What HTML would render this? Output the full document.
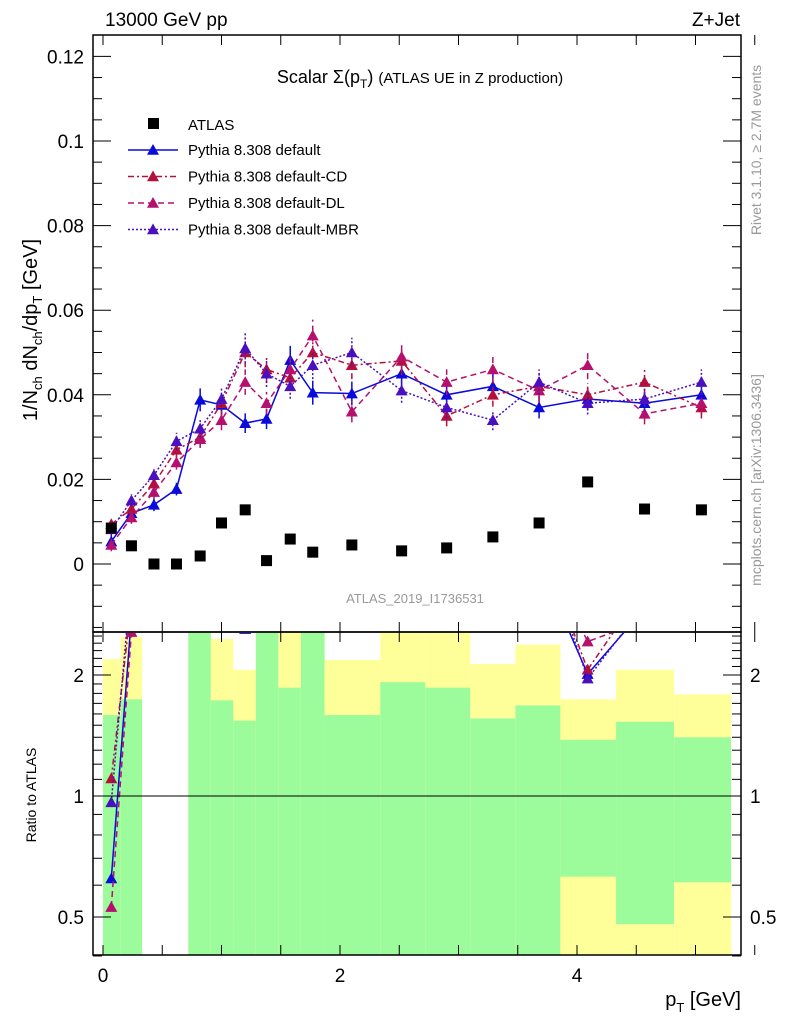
<!DOCTYPE html>
<html><head><meta charset="utf-8"><style>
body{margin:0;background:#fff;font-family:"Liberation Sans",sans-serif}
</style></head><body>
<svg id="c" width="786" height="1024" xmlns="http://www.w3.org/2000/svg" font-family="Liberation Sans, sans-serif">
<defs>
<clipPath id="mclip"><rect x="93" y="35" width="648" height="597"/></clipPath>
<clipPath id="rclip"><rect x="93" y="633" width="648" height="322"/></clipPath>
</defs>
<g id="bands" clip-path="url(#rclip)"></g>
<g id="main" clip-path="url(#mclip)"></g>
<g id="ratio" clip-path="url(#rclip)"></g>
<line x1="93" y1="796" x2="741" y2="796" stroke="#000" stroke-width="1"/>
<g id="axes"></g>
<text x="105" y="26" font-size="19">13000 GeV pp</text>
<text x="740" y="26" font-size="19" text-anchor="end">Z+Jet</text>
<text x="420" y="83" font-size="18" text-anchor="middle">Scalar Σ(p<tspan font-size="12" dy="5">T</tspan><tspan dy="-5">) </tspan><tspan font-size="15">(ATLAS UE in Z production)</tspan></text>
<text x="415" y="603" font-size="13" fill="#999" text-anchor="middle">ATLAS_2019_I1736531</text>
<text transform="translate(37,330) rotate(-90)" font-size="20" text-anchor="middle">1/N<tspan font-size="13" dy="5">ch</tspan><tspan dy="-5"> dN</tspan><tspan font-size="13" dy="5">ch</tspan><tspan dy="-5">/dp</tspan><tspan font-size="13" dy="5">T</tspan><tspan dy="-5"> [GeV]</tspan></text>
<text transform="translate(36,795) rotate(-90)" font-size="14" text-anchor="middle">Ratio to ATLAS</text>
<text x="741" y="1006" font-size="20" text-anchor="end">p<tspan font-size="13" dy="6">T</tspan><tspan dy="-6"> [GeV]</tspan></text>
<text transform="translate(761,150) rotate(-90)" font-size="14" fill="#999" text-anchor="middle">Rivet 3.1.10, ≥ 2.7M events</text>
<text transform="translate(761,480) rotate(-90)" font-size="14" fill="#999" text-anchor="middle">mcplots.cern.ch [arXiv:1306.3436]</text>
<g id="legend"></g>
</svg>
<script>
const xCenters=[0.07,0.24,0.43,0.62,0.82,1.0,1.2,1.38,1.58,1.77,2.1,2.52,2.9,3.29,3.68,4.09,4.57,5.05];
const binEdges=[0,0.15,0.33,0.52,0.72,0.91,1.1,1.29,1.48,1.67,1.87,2.34,2.72,3.1,3.48,3.86,4.33,4.82,5.3];
const atlas=[0.0085,0.0043,0,0,0.0019,0.0097,0.0128,0.0008,0.0059,0.0028,0.0045,0.0031,0.0038,0.0064,0.0097,0.0194,0.013,0.0128];
const pyDefault=[0.0053,0.012,0.014,0.0177,0.0388,0.0376,0.0333,0.0343,0.0482,0.0405,0.0403,0.045,0.040,0.042,0.037,0.039,0.038,0.040];
const pyCD=[0.0094,0.013,0.019,0.027,0.030,0.038,0.050,0.046,0.044,0.050,0.047,0.048,0.035,0.040,0.042,0.040,0.043,0.037];
const pyDL=[0.0045,0.011,0.017,0.024,0.0295,0.034,0.043,0.038,0.046,0.054,0.036,0.049,0.043,0.046,0.041,0.047,0.0355,0.038];
const pyMBR=[0.0082,0.015,0.021,0.029,0.032,0.039,0.051,0.045,0.042,0.047,0.050,0.041,0.037,0.034,0.043,0.038,0.039,0.043];
const greenHi=[1.59,1.74,0,0,3,1.73,1.54,3,1.86,3,1.59,1.92,1.86,1.56,1.68,1.38,1.53,1.40];
const greenLo=[0.3,0.3,0,0,0.3,0.3,0.3,0.3,0.3,0.3,0.3,0.3,0.3,0.3,0.3,0.63,0.48,0.61];
const yellowHi=[2.19,2.49,0,0,3,2.46,2.06,3,3,3,2.18,3,3,2.13,2.38,1.74,2.06,1.79];
const yellowLo=[0.3,0.3,0,0,0.3,0.3,0.48,0.3,0.3,0.3,0.42,0.3,0.3,0.45,0.3,0.3,0.3,0.3];
const yTicks=[0,0.02,0.04,0.06,0.08,0.1,0.12];
const xTicks=[0,2,4];
const rTicks=[0.5,1,2];

const NS="http://www.w3.org/2000/svg";
const X=v=>103+v*118.5;
const Y=v=>564-v*4230;
const R=r=>796-Math.log2(r)*121;
function mk(p,t,a){const e=document.createElementNS(NS,t);for(const k in a)e.setAttribute(k,a[k]);p.appendChild(e);return e;}
const bands=document.getElementById('bands'),main=document.getElementById('main'),ratio=document.getElementById('ratio'),axes=document.getElementById('axes'),leg=document.getElementById('legend');

for(let i=0;i<xCenters.length;i++){
  if(yellowHi[i]===0)continue;
  const x0=X(binEdges[i]),w=X(binEdges[i+1])-x0;
  const y=mk(bands,'rect',{x:x0,y:R(yellowHi[i]),width:w,height:R(yellowLo[i])-R(yellowHi[i]),fill:'#ffff99'});
  
  
  const g=mk(bands,'rect',{x:x0,y:R(greenHi[i]),width:w,height:R(greenLo[i])-R(greenHi[i]),fill:'#9cfc9c'});
  
  
}

const series=[
 {d:pyDefault,c:'#0a0adc',dash:'',name:'Pythia 8.308 default',key:'default'},
 {d:pyCD,c:'#b5103c',dash:'6,3,2,3',name:'Pythia 8.308 default-CD',key:'cd'},
 {d:pyDL,c:'#b5106e',dash:'6,4',name:'Pythia 8.308 default-DL',key:'dl'},
 {d:pyMBR,c:'#4a10c0',dash:'2,2',name:'Pythia 8.308 default-MBR',key:'mbr'}
];
function tri(p,x,y,c,s){return mk(p,'path',{d:`M${x},${y-s}L${x+s},${y+s*0.8}L${x-s},${y+s*0.8}Z`,fill:c});}

series.forEach(s=>{
  const pts=s.d.map((v,i)=>X(xCenters[i])+','+Y(v)).join(' ');
  const l=mk(main,'polyline',{points:pts,fill:'none',stroke:s.c,'stroke-width':1.5,'stroke-dasharray':s.dash});
  
  
  s.d.forEach((v,i)=>{
    const x=X(xCenters[i]),e=Math.max(0.0015,v*0.07);
    mk(main,'line',{x1:x,y1:Y(v-e),x2:x,y2:Y(v+e),stroke:s.c,'stroke-width':1.5,'stroke-dasharray':s.dash});
    const t=tri(main,x,Y(v),s.c,6);
    
    
  });
  const rp=[];
  s.d.forEach((v,i)=>{if(atlas[i]>0){rp.push([X(xCenters[i]),R(v/atlas[i])]);}});
  const rl=mk(ratio,'polyline',{points:rp.map(p=>p.join(',')).join(' '),fill:'none',stroke:s.c,'stroke-width':1.5,'stroke-dasharray':s.dash});
  
  
  rp.forEach(p=>{const t=tri(ratio,p[0],p[1],s.c,6);
    
    });
});
atlas.forEach((v,i)=>{
  const r=mk(main,'rect',{x:X(xCenters[i])-5.5,y:Y(v)-5.5,width:11,height:11,fill:'#000'});
  
  
});

[[35,632],[632,955]].forEach(([t,b])=>mk(axes,'rect',{x:93,y:t,width:648,height:b-t,fill:'none',stroke:'#000','stroke-width':1.5}));
for(let v=0;v<=5.5;v+=0.5){const x=X(v);
  [[632,-10],[955,-10],[632,10]].forEach(([y0,d])=>mk(axes,'line',{x1:x,y1:y0,x2:x,y2:y0+d,stroke:'#000'}));
  mk(axes,'line',{x1:x,y1:35,x2:x,y2:45,stroke:'#000'});}
xTicks.forEach(v=>{const t=mk(axes,'text',{x:X(v),y:982,'font-size':19,'text-anchor':'middle'});t.textContent=v;
  
  });
for(let v=-0.015;v<=0.125;v+=0.005){const y=Y(v);if(y<35||y>632)continue;
  const maj=Math.abs(v/0.02-Math.round(v/0.02))<0.01,L=maj?18:9;
  mk(axes,'line',{x1:93,y1:y,x2:93+L,y2:y,stroke:'#000'});mk(axes,'line',{x1:741,y1:y,x2:741-L,y2:y,stroke:'#000'});}
yTicks.forEach(v=>{const t=mk(axes,'text',{x:84,y:Y(v)+7,'font-size':19,'text-anchor':'end'});t.textContent=v;
  
  });
[0.4,0.5,0.6,0.7,0.8,0.9,1,1.1,1.2,1.3,1.4,1.5,1.6,1.7,1.8,1.9,2,2.1,2.2,2.3,2.4,2.5].forEach(r=>{const y=R(r);
  const L=(r===0.5||r===1||r===2)?18:9;
  mk(axes,'line',{x1:93,y1:y,x2:93+L,y2:y,stroke:'#000'});mk(axes,'line',{x1:741,y1:y,x2:741-L,y2:y,stroke:'#000'});});
rTicks.forEach(r=>{
  const t=mk(axes,'text',{x:84,y:R(r)+7,'font-size':19,'text-anchor':'end'});t.textContent=r;
  
  
  const t2=mk(axes,'text',{x:750,y:R(r)+7,'font-size':19});t2.textContent=r;
  
  });

const le=mk(leg,'rect',{x:148,y:118,width:11,height:11,fill:'#000'});


const lt=mk(leg,'text',{x:188,y:130,'font-size':15});lt.textContent='ATLAS';


series.forEach((s,i)=>{const y=150+i*26.5;
  mk(leg,'line',{x1:128,y1:y,x2:178,y2:y,stroke:s.c,'stroke-width':1.5,'stroke-dasharray':s.dash});
  tri(leg,153,y,s.c,6);
  const t=mk(leg,'text',{x:188,y:y+5,'font-size':15});t.textContent=s.name;
  
  });
</script>
</body></html>
